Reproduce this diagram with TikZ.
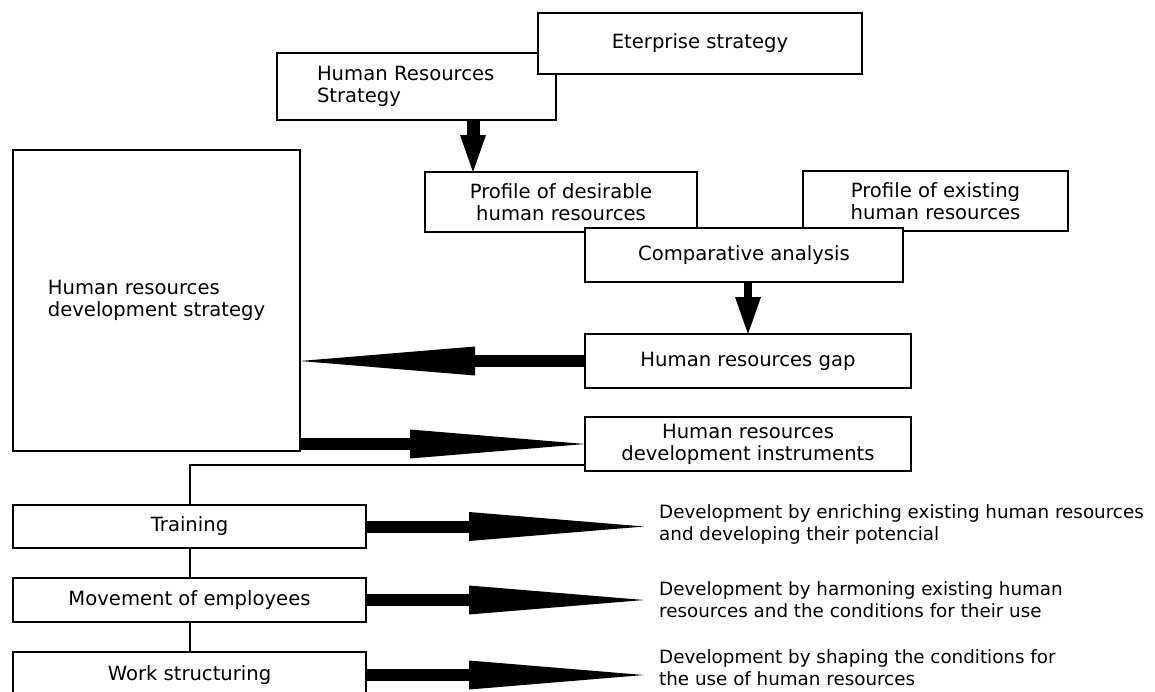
\documentclass[tikz,border=0pt]{standalone}
\usepackage{fontspec}
\setmainfont{DejaVu Sans}
\usetikzlibrary{arrows.meta}
\usetikzlibrary{positioning}

\begin{document}
\begin{tikzpicture}[x=1pt, y=-1pt, line join=miter]

			\tikzset{
				box/.style={draw=black, line width=1.9pt, fill=white, inner sep=0pt, outer sep=0pt, align=center, font=\fontsize{19.6pt}{22pt}\selectfont},
				desc/.style={anchor=west, inner sep=0pt, align=left, font=\fontsize{18.3pt}{22pt}\selectfont},
				link/.style={draw=black, line width=2pt},
				fatarrow/.style={line width=12pt, -{Triangle[length=175pt, width=29pt, line width=0pt]}},
				downarrow/.style={line width=13pt, -{Triangle[length=37pt, width=26pt, line width=0pt]}},
			}

			\clip (0,0) rectangle (1155,691);

			% --- Top: strategies
			\node[box, text width=199pt, inner xsep=40pt, minimum height=67pt, align=left] (hrs) at (416.5,86.5) {Human Resources\\Strategy};
			\node[box, minimum width=324pt, minimum height=61pt] (ent) at (700,43.5) {Eterprise strategy};

			% --- Profiles and comparison
			\node[box, minimum width=272pt, minimum height=60pt] (desire) at (561,202) {Profile of desirable\\human resources};
			\node[box, minimum width=265pt, minimum height=60pt] (exist) at (935.5,201) {Profile of existing\\human resources};
			\node[box, minimum width=318pt, minimum height=54pt] (comp) at (744,255) {Comparative analysis};

			\node[box, minimum width=326pt, minimum height=54pt] (gap) at (748,361) {Human resources gap};
			\node[box, minimum width=326pt, minimum height=54pt] (instr) at (748,444) {Human resources\\development instruments};

			% --- Left: development strategy
			\node[box, minimum width=287pt, minimum height=301pt, align=left] (devstrat) at (156.5,300.5) {Human resources\\development strategy};

			% --- Bottom: instruments
			\node[box, minimum width=353pt, minimum height=43pt] (train) at (189.5,526.5) {Training};
			\node[box, minimum width=353pt, minimum height=44pt] (move) at (189.5,600) {Movement of employees};
			\node[box, minimum width=353pt, minimum height=46pt] (work) at (189.5,675) {Work structuring};

			\node[desc] (d1) at (659,524) {Development by enriching existing human resources\\and developing their potencial};
			\node[desc] (d2) at (659,600) {Development by harmoning existing human\\resources and the conditions for their use};
			\node[desc] (d3) at (659,668) {Development by shaping the conditions for\\the use of human resources};

			% --- Arrows
			\coordinate (hrsout) at ([xshift=56.5pt]hrs.south);
			\draw[downarrow] (hrsout) -- (hrsout |- desire.north);
			\draw[downarrow, line width=8pt] (gap.north |- comp.south) -- (gap.north);

			\draw[fatarrow] (gap.west) -- (gap.west -| devstrat.east);
			\draw[fatarrow] (devstrat.east |- instr.west) -- (instr.west);

			\draw[link] ([yshift=6pt]instr.south west) -| (train.north);
			\draw[link] (train.south) -- (move.north);
			\draw[link] (move.south) -- (work.north);

			\draw[fatarrow, shorten >=15pt] (train.east) -- (train.east -| d1.west);
			\draw[fatarrow, shorten >=15pt] (move.east) -- (move.east -| d2.west);
			\draw[fatarrow, shorten >=15pt] (work.east) -- (work.east -| d3.west);

		\end{tikzpicture}
\end{document}
